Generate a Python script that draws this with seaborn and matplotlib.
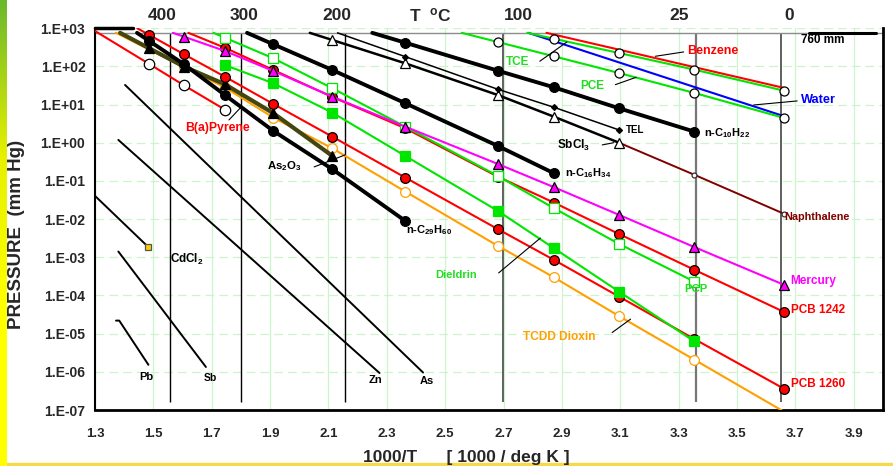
import matplotlib
matplotlib.use('Agg')
import matplotlib.pyplot as plt
import matplotlib.ticker as mticker
import numpy as np
import seaborn as sns
from matplotlib.colors import LinearSegmentedColormap

# x = 1000/T [1/K], p = vapour pressure [mm Hg]
TOP_LABELS = ['400', '300', '200', r'T  $^{\rm o}$C', '100', '25', '0']
TOP_LABEL_X = [1.530, 1.811, 2.130, 2.449, 2.751, 3.303, 3.680]
TEMP_LINE_X = [1.557, 1.801, 2.157, 2.699, 3.358, 3.649]

X_TICKS = [1.3, 1.5, 1.7, 1.9, 2.1, 2.3, 2.5, 2.7, 2.9, 3.1, 3.3, 3.5, 3.7, 3.9]
Y_TICKS = [1e-7, 1e-6, 1e-5, 1e-4, 1e-3, 1e-2, 1e-1, 1e0, 1e1, 1e2, 1e3]
Y_TICK_LABELS = ['1.E-07', '1.E-06', '1.E-05', '1.E-04', '1.E-03', '1.E-02',
                 '1.E-01', '1.E+00', '1.E+01', '1.E+02', '1.E+03']

BENZENE_X = [2.847, 3.661]
BENZENE_P = [760, 27.4]
WATER_X = [2.785, 3.661]
WATER_P = [760, 4.97]
TCE_X = [2.781, 2.872, 3.095, 3.354, 3.661]
TCE_P = [760, 534, 226, 82.5, 23.2]
PCE_X = [2.557, 2.680, 2.872, 3.095, 3.354, 3.661]
PCE_P = [760, 438, 185, 67.6, 20.2, 4.49]

C10_X = [2.25, 2.363, 2.680, 2.872, 3.095, 3.354]
C10_P = [760, 420, 77.6, 28.5, 8.05, 1.96]
C16_X = [1.821, 1.911, 2.113, 2.363, 2.680, 2.872]
C16_P = [760, 381, 81, 10.9, 0.83, 0.16]
C29_X = [1.444, 1.486, 1.605, 1.745, 1.911, 2.113, 2.363]
C29_P = [760, 465, 114, 17.9, 2.05, 0.204, 9.0e-3]

SBCL3_X = [2.036, 2.113, 2.363, 2.680, 2.872, 3.095]
SBCL3_P = [760, 494, 121, 17.9, 4.85, 1.01]
TEL_X = [2.131, 2.363, 2.680, 2.872, 3.095]
TEL_P = [760, 181, 25.3, 8.55, 2.18]
NAPH_X = [3.095, 3.354, 3.661]
NAPH_P = [1.01, 0.145, 0.0138]

BAP_X = [1.3, 1.486, 1.605, 1.745]
BAP_P = [850, 116, 32, 7.4]
AS2O3_X = [1.386, 1.486, 1.605, 1.745, 1.911, 2.113]
AS2O3_P = [760, 299, 99, 34.2, 5.96, 0.454]

PCB1260_X = [1.445, 1.486, 1.605, 1.745, 1.911, 2.113, 2.363, 2.680, 2.872, 3.095, 3.354, 3.661]
PCB1260_P = [1000, 668, 208, 54, 10.4, 1.45, 0.123, 5.5e-3, 8.6e-4, 9.4e-5, 7.2e-6, 3.6e-7]
PCB1242_X = [1.62, 1.745, 1.911, 2.113, 2.363, 2.680, 2.872, 3.095, 3.354, 3.661]
PCB1242_P = [760, 310, 81, 15.9, 2.41, 0.130, 0.0272, 4.1e-3, 4.7e-4, 3.7e-5]
MERCURY_X = [1.567, 1.605, 1.745, 1.911, 2.113, 2.363, 2.680, 2.872, 3.095, 3.354, 3.661]
MERCURY_P = [760, 603, 255, 76, 16.2, 2.65, 0.28, 0.069, 0.0130, 1.85e-3, 1.9e-4]
PCP_X = [1.706, 1.745, 1.911, 2.113, 2.363, 2.680, 2.872, 3.095, 3.354]
PCP_P = [760, 567, 164, 26.9, 2.65, 0.136, 0.0194, 2.26e-3, 2.3e-4]
DIELDRIN_X = [1.745, 1.911, 2.113, 2.363, 2.680, 2.872, 3.095, 3.354]
DIELDRIN_P = [109, 36.3, 6.18, 0.454, 0.0165, 1.74e-3, 1.27e-4, 6.25e-6]
TCDD_X = [1.372, 1.605, 1.745, 1.911, 2.113, 2.363, 2.680, 2.872, 3.095, 3.354, 3.661]
TCDD_P = [760, 97, 28.2, 4.57, 0.72, 0.053, 2.0e-3, 3.0e-4, 2.9e-5, 2.07e-6, 9e-8]

AS_X = [1.403, 2.424]
AS_P = [32.8, 9.6e-7]
ZN_X = [1.380, 2.275]
ZN_P = [1.19, 9.3e-7]
CDCL2_X = [1.3, 1.483]
CDCL2_P = [0.0407, 1.85e-3]
SB_X = [1.380, 1.680]
SB_P = [1.42e-3, 1.34e-6]
PB_X = [1.372, 1.383, 1.483]
PB_P = [2.2e-5, 2.2e-5, 1.53e-6]

RED = '#ff0000'
GREEN = '#00e600'
GREEN_TXT = '#22dd22'
MAGENTA = '#ff00ff'
ORANGE = '#ffa000'
BLUE = '#0000ff'
DKRED = '#800000'
OLIVE = '#45450f'

sns.set_style('white')
plt.rcParams['font.family'] = ['Liberation Sans', 'DejaVu Sans']
plt.rcParams['font.weight'] = 'bold'
plt.rcParams['axes.labelweight'] = 'bold'
plt.rcParams['mathtext.fontset'] = 'custom'
plt.rcParams['mathtext.rm'] = 'Liberation Sans:bold'
plt.rcParams['mathtext.it'] = 'Liberation Sans:bold'
plt.rcParams['mathtext.bf'] = 'Liberation Sans:bold'

fig = plt.figure(figsize=(8.93, 4.66), dpi=100)
ax = fig.add_axes([95 / 893, 56 / 466, 788 / 893, 381.7 / 466])
ax.set_yscale('log')


def draw(x, p, color, lw, marker=None, ms=7, mfc=None, mec='black', every=None, z=3):
    kw = {}
    if marker:
        kw = dict(marker=marker, markersize=ms, markerfacecolor=mfc or color,
                  markeredgecolor=mec, markeredgewidth=0.9)
        if every is not None:
            kw['markevery'] = every
    sns.lineplot(x=x, y=p, ax=ax, color=color, linewidth=lw, sort=False,
                 estimator=None, legend=False, zorder=z, **kw)


def skip_first(x):
    return list(range(1, len(x)))


# metals (plain lines)
for xs, ps in [(AS_X, AS_P), (ZN_X, ZN_P), (SB_X, SB_P), (PB_X, PB_P)]:
    draw(xs, ps, 'black', 1.4)
draw(CDCL2_X, CDCL2_P, 'black', 1.4, marker='s', ms=4, mfc='#ffcc00', mec='#555555', every=[1])

# organics
draw(TCDD_X, TCDD_P, ORANGE, 1.5, marker='o', ms=7, mfc='white', mec=ORANGE,
     every=list(range(1, len(TCDD_X) - 1)))
draw(AS2O3_X, AS2O3_P, OLIVE, 3.0, marker='^', ms=7, mfc='black', every=skip_first(AS2O3_X))
draw(BAP_X, BAP_P, RED, 1.5, marker='o', ms=7.5, mfc='white', every=skip_first(BAP_X))
draw(PCB1260_X, PCB1260_P, RED, 1.5, marker='o', ms=7, every=skip_first(PCB1260_X))
draw(PCB1242_X, PCB1242_P, RED, 1.5, marker='o', ms=7, every=skip_first(PCB1242_X))
draw(DIELDRIN_X, DIELDRIN_P, GREEN, 1.5, marker='s', ms=6.5, mec=GREEN)
draw(PCP_X, PCP_P, GREEN, 1.5, marker='s', ms=6.5, mfc='white', mec=GREEN, every=skip_first(PCP_X))
draw(MERCURY_X, MERCURY_P, MAGENTA, 1.5, marker='^', ms=7.5, every=skip_first(MERCURY_X))
draw(C29_X, C29_P, 'black', 2.8, marker='o', ms=7, every=skip_first(C29_X))
draw(C16_X, C16_P, 'black', 2.8, marker='o', ms=7, every=skip_first(C16_X))
draw(C10_X, C10_P, 'black', 2.8, marker='o', ms=7, every=skip_first(C10_X))
draw(NAPH_X, NAPH_P, DKRED, 1.4, marker='o', ms=3.5, mfc='white', mec='#333333', every=skip_first(NAPH_X))
draw(SBCL3_X, SBCL3_P, 'black', 1.8, marker='^', ms=7, mfc='white', every=skip_first(SBCL3_X))
draw(TEL_X, TEL_P, 'black', 1.1, marker='D', ms=3, every=skip_first(TEL_X))
draw(BENZENE_X, BENZENE_P, RED, 1.5)
draw(WATER_X, WATER_P, BLUE, 1.5)
draw(TCE_X, TCE_P, GREEN, 1.5, marker='o', ms=6.5, mfc='white', every=skip_first(TCE_X))
draw(PCE_X, PCE_P, GREEN, 1.5, marker='o', ms=6.5, mfc='white', every=skip_first(PCE_X))

# temperature reference lines and 760 mm line
ax.vlines(TEMP_LINE_X, 1.65e-7, 760,
          colors=['black', 'black', 'black', '#555555', '#777777', '#444444'],
          linewidths=[1.0, 1.0, 1.0, 1.3, 1.6, 1.2], zorder=2)
ax.axhline(760, color='#8c8c8c', lw=1.0, zorder=2)
ax.plot([3.745, 3.975], [760, 760], color='black', lw=2.2, zorder=4)
ax.plot([1.3, 1.43], [1000, 1000], color='black', lw=2.5, zorder=4, clip_on=False)

for s, xv in zip(TOP_LABELS, TOP_LABEL_X):
    ax.text(xv, 1.033, s, transform=ax.get_xaxis_transform(), ha='center', va='center',
            fontsize=12.5, fontweight='bold')

# series labels
labels = [
    ('Benzene', 3.415, 259, RED, 9, 'center'),
    ('TCE', 2.749, 129, GREEN_TXT, 8.5, 'center'),
    ('PCE', 3.004, 31.4, GREEN_TXT, 8.5, 'center'),
    ('Water', 3.779, 13.3, BLUE, 9.2, 'center'),
    ('n-C$_{10}$H$_{22}$', 3.385, 1.82, 'black', 8, 'left'),
    ('TEL', 3.118, 2.18, 'black', 7, 'left'),
    ('SbCl$_3$', 2.884, 0.85, 'black', 8.5, 'left'),
    ('n-C$_{16}$H$_{34}$', 2.912, 0.16, 'black', 8, 'left'),
    ('Naphthalene', 3.661, 0.0115, DKRED, 7.8, 'left'),
    ('n-C$_{29}$H$_{60}$', 2.367, 5.25e-3, 'black', 8, 'left'),
    ('B(a)Pyrene', 1.718, 2.45, RED, 8.8, 'center'),
    ('As$_2$O$_3$', 1.948, 0.248, 'black', 8.2, 'center'),
    ('CdCl$_2$', 1.615, 8.6e-4, 'black', 8.4, 'center'),
    ('Dieldrin', 2.536, 3.5e-4, GREEN_TXT, 8, 'center'),
    ('Mercury', 3.683, 2.47e-4, MAGENTA, 8.6, 'left'),
    ('PCP', 3.358, 1.47e-4, GREEN_TXT, 8.2, 'center'),
    ('PCB 1242', 3.685, 4.2e-5, RED, 8.5, 'left'),
    ('TCDD Dioxin', 2.889, 8e-6, ORANGE, 8.6, 'center'),
    ('PCB 1260', 3.685, 4.9e-7, RED, 8.5, 'left'),
    ('Pb', 1.475, 7.4e-7, 'black', 8, 'center'),
    ('Sb', 1.694, 7e-7, 'black', 7.5, 'center'),
    ('Zn', 2.26, 6.2e-7, 'black', 8, 'center'),
    ('As', 2.438, 5.9e-7, 'black', 8, 'center'),
    ('760 mm', 3.718, 494, 'black', 8.5, 'left'),
]
for s, xv, pv, c, fs, ha in labels:
    ax.text(xv, pv, s, color=c, fontsize=fs, ha=ha, va='center', zorder=6,
            fontweight='bold')

leaders = [
    ((1.759, 1.797), (3.98, 8.05)),
    ((2.051, 2.157), (0.234, 0.482)),
    ((3.038, 3.078), (0.88, 1.01)),
    ((2.683, 2.826), (3.9e-4, 3.2e-3)),
    ((3.072, 3.135), (1.07e-5, 2.4e-5)),
    ((2.824, 2.917), (137, 438)),
    ((3.083, 3.154), (33.4, 52)),
    ((3.220, 3.317), (185, 240)),
    ((3.557, 3.706), (9.8, 12.5)),
]
for xs, ps in leaders:
    ax.plot(xs, ps, color='black', lw=0.8, zorder=5)

# axes styling
ax.set_xlim(1.3, 4.0)
ax.set_ylim(1e-7, 1e3)
ax.set_xticks(X_TICKS)
ax.set_xticklabels([f'{v:.1f}' for v in X_TICKS], fontweight='bold')
ax.xaxis.set_minor_locator(mticker.FixedLocator([v + 0.1 for v in X_TICKS]))
ax.set_yticks(Y_TICKS)
ax.set_yticklabels(Y_TICK_LABELS, fontweight='bold')
ax.yaxis.set_minor_locator(mticker.LogLocator(base=10, subs=np.arange(2, 10)))
ax.yaxis.set_minor_formatter(mticker.NullFormatter())
ax.tick_params(axis='both', which='major', direction='out', length=5, width=1.2, pad=2)
ax.tick_params(axis='x', which='major', labelsize=9.5, pad=8)
ax.tick_params(axis='y', which='major', labelsize=10)
ax.tick_params(axis='both', which='minor', direction='in', length=3, width=0.8)
ax.grid(which='major', axis='x', color='#ccf5cc', lw=0.9, ls='-')
ax.grid(which='major', axis='y', color='#ccf5cc', lw=0.9, ls=(0, (7, 4)))
ax.set_axisbelow(True)
ax.spines['top'].set_visible(False)
for side, w in [('left', 1.5), ('bottom', 2.0), ('right', 2.0)]:
    ax.spines[side].set_linewidth(w)
    ax.spines[side].set_color('black')

ax.set_ylabel('PRESSURE  (mm Hg)', fontsize=13.5, fontweight='bold')
ax.yaxis.set_label_coords(-0.089, 0.46)
ax.set_xlabel('1000/T      [ 1000 / deg K ]', fontsize=12.5, fontweight='bold')
ax.xaxis.set_label_coords(0.471, -0.105)

# slide decoration: green-yellow strip at left, yellow line at bottom
strip = fig.add_axes([0, 0, 0.0075, 1])
cmap = LinearSegmentedColormap.from_list('strip', ['#ffff00', '#ffff00', '#e6f000', '#6ab82c'])
strip.imshow(np.linspace(0, 1, 256)[:, None], aspect='auto', cmap=cmap, origin='lower')
strip.axis('off')
fig.add_artist(plt.Rectangle((0, 0), 1, 0.007, transform=fig.transFigure,
                             color='#f5d94a', zorder=0))

fig.savefig('out.png', dpi=100)
